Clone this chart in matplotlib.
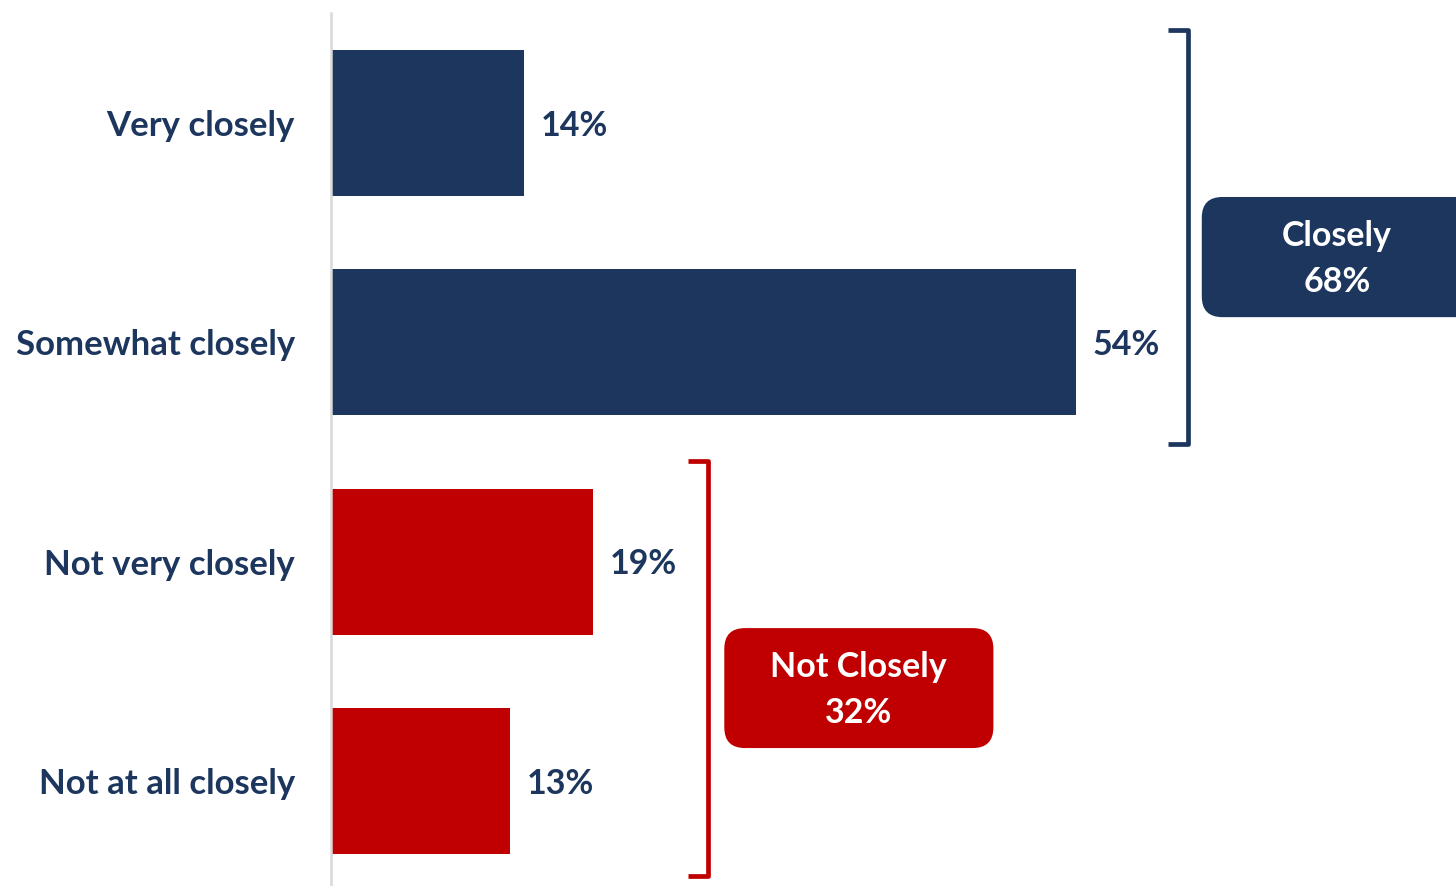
import matplotlib.pyplot as plt
from matplotlib.patches import FancyBboxPatch

categories = ["Very closely", "Somewhat closely", "Not very closely", "Not at all closely"]
values = [14, 54, 19, 13]
groups = ["close", "close", "not", "not"]

NAVY = "#1C365E"
RED = "#C00000"
colors = {"close": NAVY, "not": RED}

plt.rcParams["font.family"] = ["Lato", "DejaVu Sans"]
plt.rcParams["font.weight"] = "bold"

W, H = 1456, 886
fig = plt.figure(figsize=(W / 100, H / 100), dpi=100)
ax = fig.add_axes([331 / W, 0, 1 - 331 / W, 873 / H])

ypos = list(range(len(categories)))
ax.barh(ypos, values, height=0.666, color=[colors[g] for g in groups])
ax.set_xlim(0, (W - 331) / 13.8)
ax.set_ylim(3.479, -0.502)

for y, v, g in zip(ypos, values, groups):
    ax.text(v + 1.2, y + 0.012, f"{v}%", ha="left", va="center", fontsize=24.5,
            fontweight="bold", color=NAVY)

ax.set_yticks(ypos)
ax.set_yticklabels(categories, fontsize=25, fontweight="bold", color=NAVY)
ax.tick_params(axis="y", length=0, pad=26)
ax.set_xticks([])
for s in ["top", "right", "bottom"]:
    ax.spines[s].set_visible(False)
ax.spines["left"].set_color("#D9D9D9")
ax.spines["left"].set_linewidth(1.8)

# brackets and summary boxes
aspect = (1 / 219.3) / (1 / 13.8)


def bracket(x, y0, y1, color):
    ax.plot([x - 1.45, x, x, x - 1.45], [y0, y0, y1, y1], color=color, lw=3.4,
            solid_joinstyle="round", solid_capstyle="butt", clip_on=False)


def box(x0, x1, y0, y1, color, text, tx):
    p = FancyBboxPatch((x0, y0), x1 - x0, y1 - y0,
                       boxstyle="round,pad=0,rounding_size=1.5",
                       mutation_aspect=aspect, facecolor=color, edgecolor="none",
                       transform=ax.transData, clip_on=True)
    ax.add_patch(p)
    ax.text(tx, (y0 + y1) / 2 + 0.01, text, ha="center", va="center", fontsize=24.5,
            fontweight="bold", color="white", linespacing=1.55)


close_total = sum(v for v, g in zip(values, groups) if g == "close")
not_total = sum(v for v, g in zip(values, groups) if g == "not")

bracket(62.1, -0.424, 1.464, NAVY)
box(63.1, 90, 0.337, 0.885, NAVY, f"Closely\n{close_total}%", 72.9)

bracket(27.3, 1.543, 3.433, RED)
box(28.5, 48.0, 2.303, 2.850, RED, f"Not Closely\n{not_total}%", 38.2)

fig.savefig("out.png", dpi=100)
